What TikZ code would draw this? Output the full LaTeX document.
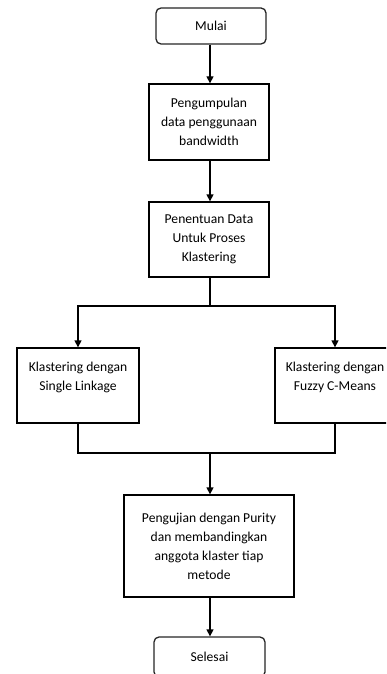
\documentclass[tikz,border=0pt]{standalone}
\usepackage{fontspec}
\setmainfont{Carlito}
\usetikzlibrary{arrows.meta}
\begin{document}
\begin{tikzpicture}[x=1pt,y=-1pt,
  every node/.style={font=\fontsize{13.6}{19}\selectfont},
  box/.style={draw,line width=1.3pt,fill=white,inner sep=0pt,align=center},
  term/.style={box,rounded corners=5pt,draw=black!85},
  txt/.style={inner sep=0pt,align=center},
  conn/.style={line width=1.3pt},
  arr/.style={conn,-{Triangle[length=7pt,width=7pt]}}
]
\useasboundingbox (0,0) rectangle (386,674);
\clip (0,0) rectangle (386,674);
\node[term,minimum width=110pt,minimum height=36pt] (mulai) at (211,26) {Mulai};
\node[box,minimum width=120pt,minimum height=76pt] (b2) at (209,122) {Pengumpulan\\data penggunaan\\bandwidth};
\node[box,minimum width=120pt,minimum height=75pt] (b3) at (209,239.5) {Penentuan Data\\Untuk Proses\\Klastering};
\node[box,minimum width=122pt,minimum height=75pt] (left) at (78,385.5) {};
\node[txt] (lt) at ([yshift=8pt]left.center) {Klastering dengan\\Single Linkage};
\node[box,minimum width=120pt,minimum height=75pt] (right) at (335,385.5) {};
\node[txt] (rt) at ([yshift=8pt]right.center) {Klastering dengan\\Fuzzy C-Means};
\node[box,minimum width=170pt,minimum height=102pt] (b5) at (209,546) {Pengujian dengan Purity\\dan membandingkan\\anggota klaster tiap\\metode};
\node[term,minimum width=111pt,minimum height=40pt] (end) at (209.5,657) {Selesai};
\coordinate (split) at (210,306);
\coordinate (join) at (210,453);
\draw[arr] (mulai.south -| split) -- (b2.north -| split);
\draw[arr] (b2.south -| split) -- (b3.north -| split);
\draw[conn] (b3.south -| split) -- (split);
\draw[arr] (split) -| (left.north);
\draw[arr] (split) -| (right.north);
\draw[conn] (left.south) |- (join);
\draw[conn] (right.south) |- (join);
\draw[arr] (join) -- (b5.north -| join);
\draw[arr] (b5.south -| join) -- (end.north -| join);
\end{tikzpicture}
\end{document}
